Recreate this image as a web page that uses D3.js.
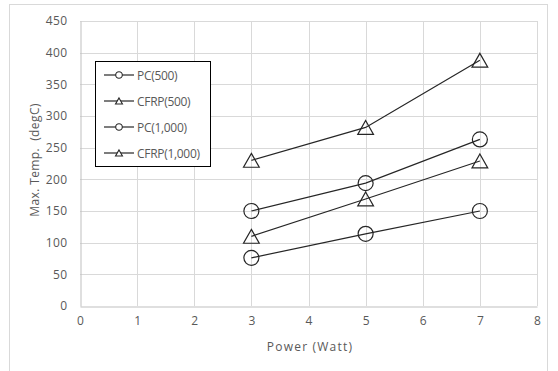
<!DOCTYPE html>
<html>
<head>
<meta charset="utf-8">
<script src="https://cdn.jsdelivr.net/npm/d3@7/dist/d3.min.js"></script>
<style>
  html, body { margin: 0; padding: 0; background: #fff; }
  svg { display: block; }
  text { font-family: "Open Sans", "Liberation Sans", Arial, sans-serif; fill: #595959; }
</style>
</head>
<body>
<svg id="chart" width="558" height="371"></svg>
<script>
// Power levels (Watt)
const power = [3, 5, 7];
// Maximum temperature (degC) per specimen
const pc500 = [76, 114, 150];
const cfrp500 = [110, 169, 229];
const pc1000 = [150, 194, 263];
const cfrp1000 = [230, 282, 388];

const seriesNames = ["PC(500)", "CFRP(500)", "PC(1,000)", "CFRP(1,000)"];
const seriesValues = [pc500, cfrp500, pc1000, cfrp1000];
const seriesMarkers = ["circle", "triangle", "circle", "triangle"];

const xTicks = [0, 1, 2, 3, 4, 5, 6, 7, 8];
const yTicks = [0, 50, 100, 150, 200, 250, 300, 350, 400, 450];

const svg = d3.select("#chart");
const plot = { left: 80, right: 537, top: 21, bottom: 306 };

const x = d3.scaleLinear().domain([0, 8]).range([plot.left, plot.right]);
const y = d3.scaleLinear().domain([0, 450]).range([plot.bottom, plot.top]);

// Chart frame
svg.append("rect")
  .attr("x", 9.5).attr("y", 4.5)
  .attr("width", 538).attr("height", 380)
  .attr("fill", "#fff").attr("stroke", "#d9d9d9").attr("stroke-width", 1);

// Gridlines
const grid = svg.append("g");
grid.selectAll(".hg").data(yTicks.filter(d => d > 0)).join("line")
  .attr("x1", plot.left).attr("x2", plot.right)
  .attr("y1", d => Math.round(y(d)) + 0.5).attr("y2", d => Math.round(y(d)) + 0.5)
  .attr("stroke", "#d9d9d9").attr("stroke-width", 1);
grid.selectAll(".vg").data(xTicks.filter(d => d > 0)).join("line")
  .attr("y1", plot.top).attr("y2", plot.bottom)
  .attr("x1", d => Math.round(x(d)) + 0.5).attr("x2", d => Math.round(x(d)) + 0.5)
  .attr("stroke", "#d9d9d9").attr("stroke-width", 1);

// Axes
const xAxis = d3.axisBottom(x).tickValues(xTicks).tickSize(0).tickPadding(10);
const yAxis = d3.axisLeft(y).tickValues(yTicks).tickSize(0).tickPadding(13);

const gx = svg.append("g").attr("transform", `translate(0,${Math.round(y(0)) + 0.5})`).call(xAxis);
gx.select(".domain").attr("stroke", "#bfbfbf");
gx.selectAll("text").style("font-size", "12px").attr("fill", "#595959");

const gy = svg.append("g").attr("transform", `translate(${Math.round(x(0)) + 0.5},0)`).call(yAxis);
gy.select(".domain").attr("stroke", "#bfbfbf");
gy.selectAll("text").style("font-size", "12px").style("letter-spacing", "0.4px").attr("fill", "#595959");
gx.attr("font-family", null);
gy.attr("font-family", null);

// Axis titles
svg.append("text")
  .attr("x", 310).attr("y", 351)
  .attr("text-anchor", "middle").style("font-size", "12px")
  .style("letter-spacing", "1.2px")
  .text("Power (Watt)");
svg.append("text")
  .attr("transform", `translate(39,160) rotate(-90)`)
  .attr("text-anchor", "middle").style("font-size", "12px")
  .style("letter-spacing", "0.4px").style("white-space", "pre")
  .text("Max. Temp.  (degC)");

// Marker shapes
function markerPath(type, size) {
  if (type === "circle") {
    return d3.symbol().type(d3.symbolCircle).size(Math.PI * size * size)();
  }
  const h = size * 1.85, w = size * 2.1;
  return `M0,${-h / 2}L${w / 2},${h / 2}L${-w / 2},${h / 2}Z`;
}

const line = d3.line().x(d => x(d[0])).y(d => y(d[1]));
const seriesG = svg.append("g");
seriesValues.forEach((vals, i) => {
  const pts = power.map((p, j) => [p, vals[j]]);
  seriesG.append("path")
    .attr("d", line(pts))
    .attr("fill", "none").attr("stroke", "#262626").attr("stroke-width", 1.2);
  seriesG.selectAll(null).data(pts).join("path")
    .attr("transform", d => `translate(${x(d[0])},${y(d[1])})`)
    .attr("d", markerPath(seriesMarkers[i], 7.5))
    .attr("fill", "none").attr("stroke", "#262626").attr("stroke-width", 1.2);
});

// Legend
const lg = svg.append("g");
lg.append("rect")
  .attr("x", 95.5).attr("y", 61.5).attr("width", 115).attr("height", 105)
  .attr("fill", "#fff").attr("stroke", "#000").attr("stroke-width", 1);
seriesNames.forEach((name, i) => {
  const cy = 75 + i * 26;
  lg.append("line").attr("x1", 104).attr("x2", 134).attr("y1", cy).attr("y2", cy)
    .attr("stroke", "#262626").attr("stroke-width", 1.2);
  lg.append("path").attr("transform", `translate(119,${cy})`)
    .attr("d", markerPath(seriesMarkers[i], 3.3))
    .attr("fill", "#fff").attr("stroke", "#262626").attr("stroke-width", 1.1);
  lg.append("text").attr("x", 137).attr("y", cy + 4.5)
    .style("font-size", "12px").style("letter-spacing", "-0.3px").text(name);
});
</script>
</body>
</html>
